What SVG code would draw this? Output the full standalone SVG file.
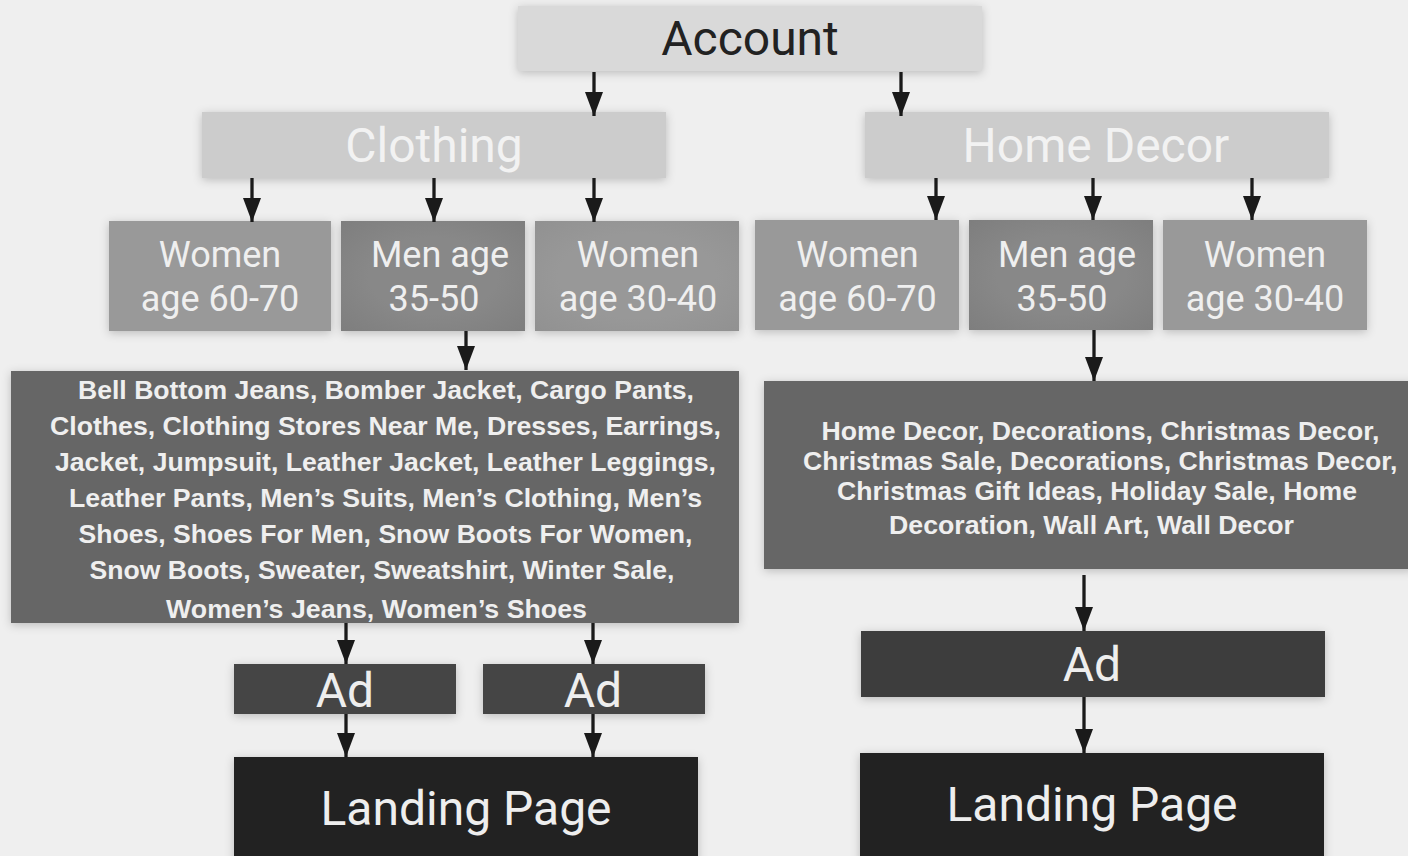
<svg xmlns="http://www.w3.org/2000/svg" width="1408" height="856" viewBox="0 0 1408 856">
<defs>
<filter id="sh" x="-20%" y="-40%" width="140%" height="180%">
<feDropShadow dx="0" dy="2" stdDeviation="5" flood-color="#000" flood-opacity="0.22"/>
</filter>
<radialGradient id="vigM" cx="50%" cy="50%" r="70%">
<stop offset="0.5" stop-color="#888888"/>
<stop offset="1" stop-color="#7e7e7e"/>
</radialGradient>
<radialGradient id="vigW" cx="50%" cy="50%" r="70%">
<stop offset="0.55" stop-color="#989898"/>
<stop offset="1" stop-color="#919191"/>
</radialGradient>
<marker id="ah" markerUnits="userSpaceOnUse" markerWidth="24" markerHeight="18" refX="24" refY="9" orient="auto">
<path d="M0,0 L24,9 L0,18 Z" fill="#1a1a1a"/>
</marker>
<style>
.big{font-family:Roboto,"Liberation Sans",sans-serif;font-size:48px;text-anchor:middle}
.seg{font-family:Roboto,"Liberation Sans",sans-serif;font-size:36px;text-anchor:middle;fill:#efefef}
.kw{font-family:"Liberation Sans",Arial,sans-serif;font-weight:bold;font-size:26.5px;fill:#efefef}
.lt{fill:#f2f2f2}
.dk{fill:#222222}
.wt{fill:#eeeeee}
.cn line{stroke:#1a1a1a;stroke-width:3.3;marker-end:url(#ah)}
</style>
</defs>
<rect width="1408" height="856" fill="#efefef"/>

<g id="account">
<rect x="518" y="6" width="464" height="65" fill="#d9d9d9" filter="url(#sh)"/>
<text class="big dk" x="750" y="55">Account</text>
</g>

<g id="clothing">
<rect x="202" y="112" width="464" height="66" fill="#cccccc" filter="url(#sh)"/>
<text class="big lt" x="434" y="162">Clothing</text>
</g>
<g id="homedecor">
<rect x="865" y="112" width="464" height="66" fill="#cccccc" filter="url(#sh)"/>
<text class="big lt" x="1096" y="162">Home Decor</text>
</g>

<g id="c-women-60-70">
<rect x="109" y="221" width="222" height="110" fill="#999999" filter="url(#sh)"/>
<text class="seg" x="220" y="267">Women</text>
<text class="seg" x="220" y="311">age 60-70</text>
</g>
<g id="c-men-35-50">
<rect x="341" y="221" width="184" height="110" fill="url(#vigM)" filter="url(#sh)"/>
<text class="seg" x="440" y="267">Men age</text>
<text class="seg" x="434" y="311">35-50</text>
</g>
<g id="c-women-30-40">
<rect x="535" y="221" width="204" height="110" fill="url(#vigW)" filter="url(#sh)"/>
<text class="seg" x="638" y="267">Women</text>
<text class="seg" x="638" y="311">age 30-40</text>
</g>

<g id="h-women-60-70">
<rect x="755" y="220" width="204" height="110" fill="#999999" filter="url(#sh)"/>
<text class="seg" x="857.5" y="267">Women</text>
<text class="seg" x="857.5" y="311">age 60-70</text>
</g>
<g id="h-men-35-50">
<rect x="969" y="220" width="184" height="110" fill="url(#vigM)" filter="url(#sh)"/>
<text class="seg" x="1067" y="267">Men age</text>
<text class="seg" x="1062" y="311">35-50</text>
</g>
<g id="h-women-30-40">
<rect x="1163" y="220" width="204" height="110" fill="#999999" filter="url(#sh)"/>
<text class="seg" x="1265" y="267">Women</text>
<text class="seg" x="1265" y="311">age 30-40</text>
</g>

<g id="c-keywords">
<rect x="11" y="371" width="728" height="252" fill="#666666" filter="url(#sh)"/>
<text class="kw" x="78" y="399" textLength="616" lengthAdjust="spacingAndGlyphs">Bell Bottom Jeans, Bomber Jacket, Cargo Pants,</text>
<text class="kw" x="50" y="435" textLength="671" lengthAdjust="spacingAndGlyphs">Clothes, Clothing Stores Near Me, Dresses, Earrings,</text>
<text class="kw" x="55" y="471" textLength="661" lengthAdjust="spacingAndGlyphs">Jacket, Jumpsuit, Leather Jacket, Leather Leggings,</text>
<text class="kw" x="69" y="507" textLength="633" lengthAdjust="spacingAndGlyphs">Leather Pants, Men’s Suits, Men’s Clothing, Men’s</text>
<text class="kw" x="78.5" y="543" textLength="614" lengthAdjust="spacingAndGlyphs">Shoes, Shoes For Men, Snow Boots For Women,</text>
<text class="kw" x="89.5" y="579" textLength="585" lengthAdjust="spacingAndGlyphs">Snow Boots, Sweater, Sweatshirt, Winter Sale,</text>
<text class="kw" x="166" y="618" textLength="421" lengthAdjust="spacingAndGlyphs">Women’s Jeans, Women’s Shoes</text>
</g>

<g id="h-keywords">
<rect x="764" y="381" width="650" height="188" fill="#666666" filter="url(#sh)"/>
<text class="kw" x="821.5" y="440" textLength="558" lengthAdjust="spacingAndGlyphs">Home Decor, Decorations, Christmas Decor,</text>
<text class="kw" x="803" y="470" textLength="594.5" lengthAdjust="spacingAndGlyphs">Christmas Sale, Decorations, Christmas Decor,</text>
<text class="kw" x="837" y="500" textLength="520" lengthAdjust="spacingAndGlyphs">Christmas Gift Ideas, Holiday Sale, Home</text>
<text class="kw" x="889" y="534" textLength="405" lengthAdjust="spacingAndGlyphs">Decoration, Wall Art, Wall Decor</text>
</g>

<g id="c-ad-1">
<rect x="234" y="664" width="222" height="50" fill="#444444" filter="url(#sh)"/>
<text class="big wt" x="345" y="707">Ad</text>
</g>
<g id="c-ad-2">
<rect x="483" y="664" width="222" height="50" fill="#444444" filter="url(#sh)"/>
<text class="big wt" x="593" y="707">Ad</text>
</g>
<g id="h-ad">
<rect x="861" y="631" width="464" height="66" fill="#3d3d3d" filter="url(#sh)"/>
<text class="big wt" x="1092" y="681">Ad</text>
</g>

<g id="c-landing">
<rect x="234" y="757" width="464" height="110" fill="#222222" filter="url(#sh)"/>
<text class="big wt" x="466" y="825">Landing Page</text>
</g>
<g id="h-landing">
<rect x="860" y="753" width="464" height="110" fill="#222222" filter="url(#sh)"/>
<text class="big wt" x="1092" y="821">Landing Page</text>
</g>

<g id="connectors" class="cn">
<line x1="594" y1="72" x2="594" y2="116"/>
<line x1="901" y1="72" x2="901" y2="116"/>
<line x1="252" y1="178" x2="252" y2="222"/>
<line x1="434" y1="178" x2="434" y2="222"/>
<line x1="594" y1="178" x2="594" y2="222"/>
<line x1="936" y1="178" x2="936" y2="220"/>
<line x1="1093" y1="178" x2="1093" y2="220"/>
<line x1="1252" y1="178" x2="1252" y2="220"/>
<line x1="466" y1="331" x2="466" y2="370"/>
<line x1="1094" y1="330" x2="1094" y2="381"/>
<line x1="346" y1="623" x2="346" y2="664"/>
<line x1="593" y1="623" x2="593" y2="664"/>
<line x1="346" y1="714" x2="346" y2="757"/>
<line x1="593" y1="714" x2="593" y2="757"/>
<line x1="1084" y1="575" x2="1084" y2="631"/>
<line x1="1084" y1="697" x2="1084" y2="753"/>
</g>
</svg>
